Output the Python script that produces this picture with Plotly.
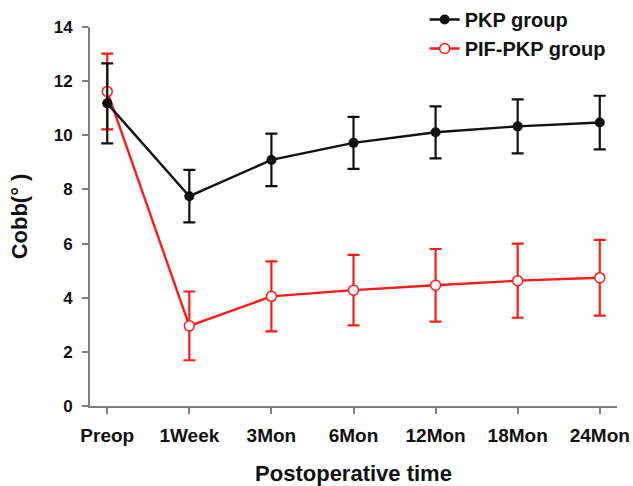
import plotly.graph_objects as go

categories = ["Preop", "1Week", "3Mon", "6Mon", "12Mon", "18Mon", "24Mon"]
pkp_mean = [11.18, 7.75, 9.09, 9.72, 10.11, 10.33, 10.47]
pkp_sd = [1.48, 0.97, 0.97, 0.96, 0.96, 1.0, 0.99]
pif_mean = [11.62, 2.96, 4.05, 4.28, 4.46, 4.63, 4.74]
pif_sd = [1.4, 1.27, 1.29, 1.3, 1.34, 1.37, 1.4]
y_ticks = [0, 2, 4, 6, 8, 10, 12, 14]

FONT = "Liberation Sans, Arial, sans-serif"
x_idx = list(range(len(categories)))

fig = go.Figure()
fig.add_trace(go.Scatter(
    x=x_idx, y=pif_mean, name="PIF-PKP group", mode="lines+markers",
    legendgroup="b", legendrank=2,
    line=dict(color="#ff1a1a", width=2.4),
    marker=dict(symbol="circle", size=10, color="white", line=dict(color="#ff1a1a", width=1.5)),
    error_y=dict(type="data", array=pif_sd, visible=True, color="#ff1a1a", thickness=2.2, width=6),
))
fig.add_trace(go.Scatter(
    x=x_idx, y=pkp_mean, name="PKP group", mode="lines+markers",
    legendgroup="a", legendrank=1,
    line=dict(color="#111111", width=2.4),
    marker=dict(symbol="circle", size=10, color="#111111"),
    error_y=dict(type="data", array=pkp_sd, visible=True, color="#111111", thickness=2.2, width=6),
))

fig.update_layout(
    width=633, height=486,
    margin=dict(l=90, r=16, t=27, b=80, autoexpand=False),
    plot_bgcolor="white", paper_bgcolor="white",
    font=dict(family=FONT, color="#111111"),
    showlegend=True,
    legend=dict(x=0.635, y=1.0, xanchor="left", yanchor="top", yref="container",
                bgcolor="rgba(0,0,0,0)", tracegroupgap=0,
                font=dict(family=FONT, size=20, weight="bold", color="#111111")),
    xaxis=dict(
        range=[-0.21, 6.21], tickmode="array", tickvals=x_idx, ticktext=categories,
        showline=True, linecolor="#808080", linewidth=2, ticks="outside",
        tickcolor="#808080", ticklen=6, tickwidth=2, showgrid=False, zeroline=False,
        automargin=False, ticklabelstandoff=5,
        tickfont=dict(family=FONT, size=19, weight="bold", color="#111111"),
        title=dict(text="Postoperative time", standoff=22,
                   font=dict(family=FONT, size=22, weight="bold", color="#111111")),
    ),
    yaxis=dict(
        range=[0, 14], tickmode="array", tickvals=y_ticks,
        showline=True, linecolor="#808080", linewidth=2, ticks="outside",
        tickcolor="#808080", ticklen=6, tickwidth=2, showgrid=False, zeroline=False,
        automargin=False, ticklabelstandoff=6,
        tickfont=dict(family=FONT, size=17, weight="bold", color="#111111"),
        title=dict(text="Cobb(° )", standoff=20,
                   font=dict(family=FONT, size=22, weight="bold", color="#111111")),
    ),
)

fig.write_html(
    "out.html",
    config={"displayModeBar": False},
    post_script="document.body.style.margin='0';document.body.style.overflow='hidden';",
)
